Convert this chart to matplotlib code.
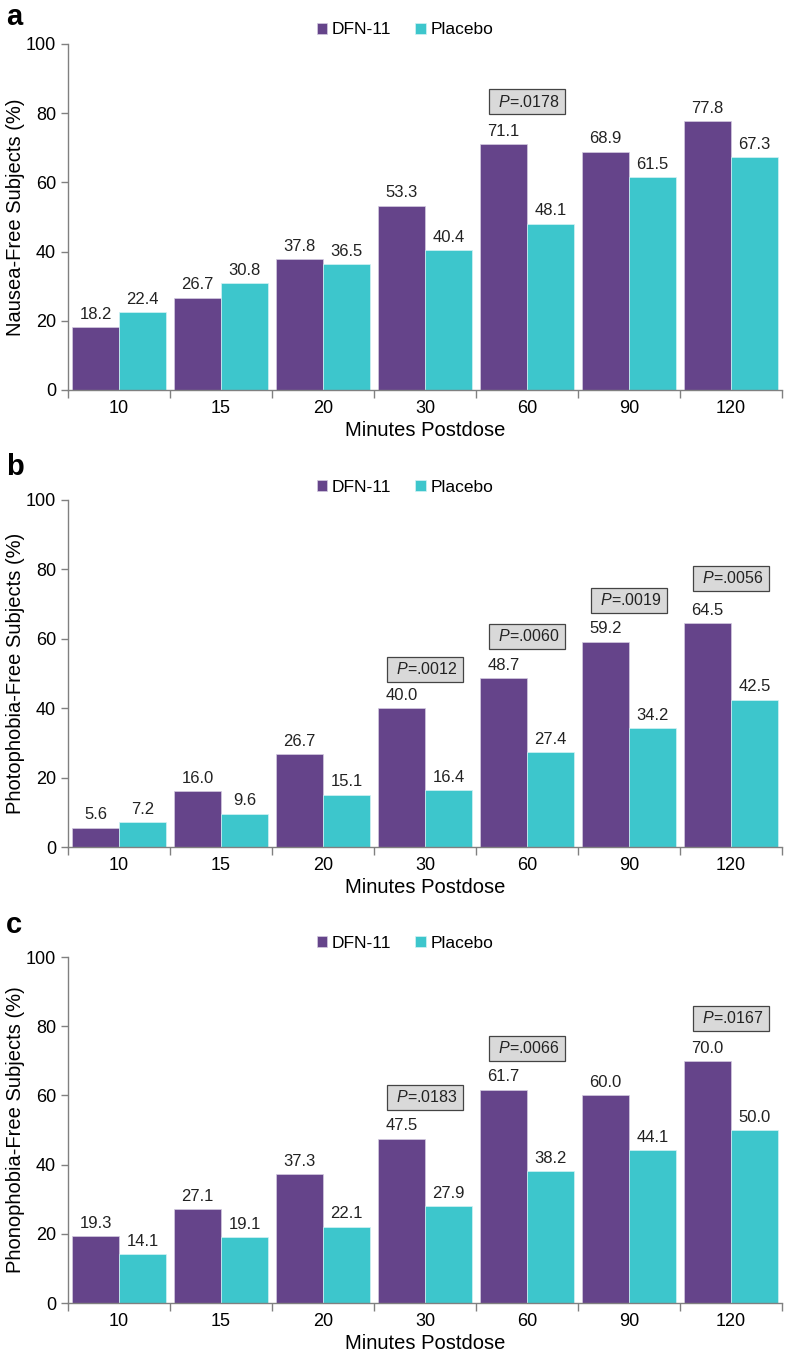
import matplotlib
matplotlib.use("Agg")
import matplotlib.pyplot as plt
import numpy as np

plt.rcParams['font.family'] = ['Liberation Sans', 'DejaVu Sans']
plt.rcParams['mathtext.fontset'] = 'custom'
plt.rcParams['mathtext.it'] = 'Liberation Sans:italic'
plt.rcParams['mathtext.rm'] = 'Liberation Sans'

categories = ["10", "15", "20", "30", "60", "90", "120"]
series_names = ["DFN-11", "Placebo"]

nausea_dfn = [18.2, 26.7, 37.8, 53.3, 71.1, 68.9, 77.8]
nausea_pla = [22.4, 30.8, 36.5, 40.4, 48.1, 61.5, 67.3]
photo_dfn = [5.6, 16.0, 26.7, 40.0, 48.7, 59.2, 64.5]
photo_pla = [7.2, 9.6, 15.1, 16.4, 27.4, 34.2, 42.5]
phono_dfn = [19.3, 27.1, 37.3, 47.5, 61.7, 60.0, 70.0]
phono_pla = [14.1, 19.1, 22.1, 27.9, 38.2, 44.1, 50.0]

# p-value annotations: (category index, text, y position in data units)
nausea_p = [(4, ".0178", 83.3)]
photo_p = [(3, ".0012", 51.2), (4, ".0060", 60.7), (5, ".0019", 71.1), (6, ".0056", 77.5)]
phono_p = [(3, ".0183", 59.4), (4, ".0066", 73.6), (6, ".0167", 82.3)]

ylabels = ["Nausea-Free Subjects (%)", "Photophobia-Free Subjects (%)", "Phonophobia-Free Subjects (%)"]
panel_letters = ["a", "b", "c"]

purple = "#65448A"
cyan = "#3DC6CC"
gray = "#808080"

fig = plt.figure(figsize=(7.87, 13.61), dpi=100)
W, H = 787, 1361
# axes pixel boxes: (left, top, right, bottom)
boxes = [(68, 44, 782, 390), (68, 500, 782, 847), (68, 957, 782, 1303)]
letter_y = [17, 467, 925]
legend_y = [30, 487, 943]

data = [(nausea_dfn, nausea_pla, nausea_p), (photo_dfn, photo_pla, photo_p), (phono_dfn, phono_pla, phono_p)]

for i, ((d, p, pv), (l, t, r, b)) in enumerate(zip(data, boxes)):
    ax = fig.add_axes([l / W, 1 - b / H, (r - l) / W, (b - t) / H])
    x = np.arange(len(categories))
    bw = 0.46
    ax.bar(x - bw / 2, d, width=bw, color=purple, edgecolor="#d4cce0", linewidth=0.5, label=series_names[0])
    ax.bar(x + bw / 2, p, width=bw, color=cyan, edgecolor="#d4f2f4", linewidth=0.5, label=series_names[1])
    for xi, v in zip(x, d):
        ax.text(xi - bw / 2, v + 1.5, f"{v:.1f}", ha="center", va="bottom", fontsize=12, color="#222222")
    for xi, v in zip(x, p):
        ax.text(xi + bw / 2, v + 1.5, f"{v:.1f}", ha="center", va="bottom", fontsize=12, color="#222222")
    for ci, txt, yv in pv:
        ax.text(ci, yv, r" $\it{P}$=" + txt + " ", ha="center", va="center", fontsize=11.5, color="#222222",
                bbox=dict(boxstyle="square,pad=0.28", facecolor="#d9d9d9", edgecolor="#444444", linewidth=0.9),
                clip_on=False)
    ax.set_xlim(-0.5, len(categories) - 0.5)
    ax.set_ylim(0, 100)
    ax.set_yticks(np.arange(0, 101, 20))
    ax.tick_params(axis="y", labelsize=13, direction="out", length=5, color=gray, width=1)
    ax.set_xticks(np.arange(-0.5, len(categories), 1.0))
    ax.set_xticklabels([])
    ax.set_xticks(x, minor=True)
    ax.set_xticklabels(categories, minor=True)
    ax.tick_params(axis="x", which="major", direction="out", length=6, color=gray, width=1)
    ax.tick_params(axis="x", which="minor", length=0, labelsize=13, pad=7)
    for s in ["top", "right"]:
        ax.spines[s].set_visible(False)
    for s in ["left", "bottom"]:
        ax.spines[s].set_color(gray)
        ax.spines[s].set_linewidth(1)
    ax.set_ylabel(ylabels[i], fontsize=14.5, labelpad=1)
    ax.set_xlabel("Minutes Postdose", fontsize=14.5, labelpad=3)
    ax.legend(loc="center", bbox_to_anchor=((405 - l) / (r - l), 1 + (t - legend_y[i]) / (b - t)),
              ncol=2, frameon=False, fontsize=12.5,
              handlelength=0.6, handleheight=0.6, handletextpad=0.25, columnspacing=1.4)
    fig.text(6 / W, 1 - letter_y[i] / H, panel_letters[i], fontsize=21, fontweight="bold", va="center", ha="left")

fig.savefig("out.png", dpi=100)
